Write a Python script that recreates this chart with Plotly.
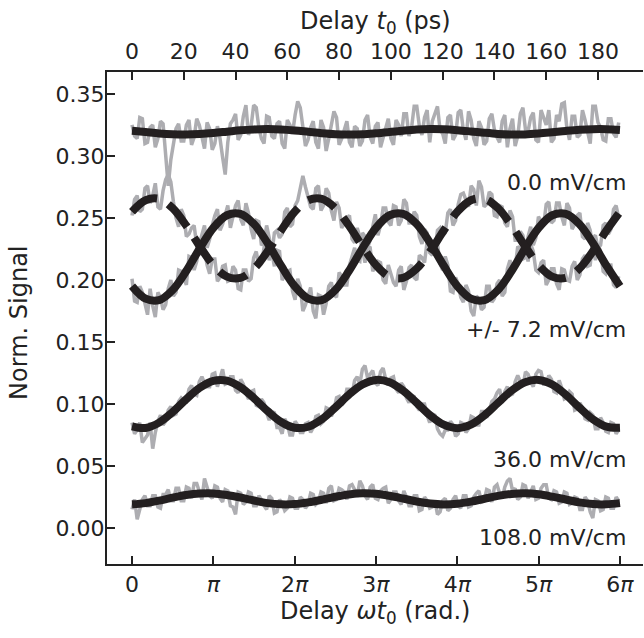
import math
import plotly.graph_objects as go

# ---------------- data ----------------
OMEGA = 0.1  # rad / ps  (6*pi rad  <->  ~188.5 ps)

# delay grid of the measured (grey) traces, in ps (1 ps steps)
T_PS = list(range(0, 189))

SIG_0MV = [0.325, 0.316, 0.314, 0.331, 0.330, 0.310, 0.311, 0.323, 0.325, 0.307,
           0.314, 0.328, 0.326, 0.301, 0.276, 0.297, 0.308, 0.322, 0.326, 0.312,
           0.312, 0.325, 0.329, 0.309, 0.315, 0.330, 0.325, 0.315, 0.306, 0.327,
           0.322, 0.305, 0.310, 0.324, 0.314, 0.299, 0.285, 0.311, 0.326, 0.329,
           0.334, 0.313, 0.317, 0.332, 0.341, 0.317, 0.324, 0.341, 0.339, 0.323,
           0.314, 0.310, 0.332, 0.331, 0.316, 0.314, 0.326, 0.328, 0.310, 0.306,
           0.329, 0.325, 0.318, 0.333, 0.344, 0.339, 0.322, 0.308, 0.313, 0.323,
           0.328, 0.311, 0.306, 0.329, 0.323, 0.304, 0.314, 0.326, 0.336, 0.331,
           0.309, 0.314, 0.320, 0.328, 0.311, 0.307, 0.324, 0.322, 0.308, 0.312,
           0.329, 0.333, 0.315, 0.310, 0.324, 0.327, 0.307, 0.315, 0.323, 0.330,
           0.314, 0.309, 0.329, 0.325, 0.316, 0.334, 0.334, 0.316, 0.323, 0.340,
           0.340, 0.324, 0.317, 0.331, 0.337, 0.311, 0.328, 0.335, 0.340, 0.321,
           0.318, 0.310, 0.331, 0.333, 0.313, 0.317, 0.335, 0.337, 0.321, 0.313,
           0.336, 0.329, 0.314, 0.308, 0.328, 0.323, 0.309, 0.312, 0.330, 0.334,
           0.321, 0.315, 0.311, 0.328, 0.333, 0.307, 0.322, 0.330, 0.308, 0.316,
           0.334, 0.339, 0.321, 0.320, 0.331, 0.335, 0.313, 0.311, 0.337, 0.331,
           0.325, 0.337, 0.311, 0.314, 0.333, 0.328, 0.342, 0.343, 0.322, 0.313,
           0.332, 0.332, 0.315, 0.317, 0.337, 0.329, 0.318, 0.310, 0.340, 0.340,
           0.327, 0.323, 0.313, 0.312, 0.330, 0.330, 0.318, 0.315, 0.327]

SIG_P72 = [0.201, 0.183, 0.182, 0.195, 0.190, 0.181, 0.172, 0.193, 0.179, 0.170,
           0.190, 0.186, 0.176, 0.180, 0.193, 0.200, 0.187, 0.190, 0.208, 0.207,
           0.201, 0.196, 0.219, 0.218, 0.208, 0.215, 0.229, 0.236, 0.244, 0.226,
           0.233, 0.244, 0.252, 0.257, 0.240, 0.245, 0.254, 0.260, 0.242, 0.251,
           0.260, 0.264, 0.249, 0.244, 0.262, 0.254, 0.241, 0.233, 0.248, 0.247,
           0.228, 0.230, 0.244, 0.234, 0.222, 0.211, 0.224, 0.223, 0.200, 0.204,
           0.207, 0.208, 0.191, 0.184, 0.201, 0.195, 0.175, 0.180, 0.187, 0.194,
           0.175, 0.169, 0.188, 0.187, 0.172, 0.181, 0.195, 0.198, 0.188, 0.186,
           0.206, 0.203, 0.196, 0.196, 0.212, 0.219, 0.226, 0.216, 0.215, 0.238,
           0.235, 0.226, 0.232, 0.243, 0.253, 0.236, 0.244, 0.258, 0.258, 0.247,
           0.244, 0.260, 0.259, 0.244, 0.248, 0.265, 0.262, 0.246, 0.246, 0.255,
           0.252, 0.235, 0.229, 0.241, 0.238, 0.222, 0.220, 0.230, 0.229, 0.213,
           0.208, 0.219, 0.212, 0.191, 0.190, 0.202, 0.197, 0.186, 0.182, 0.196,
           0.191, 0.175, 0.171, 0.187, 0.185, 0.176, 0.178, 0.195, 0.195, 0.182,
           0.185, 0.197, 0.200, 0.187, 0.190, 0.209, 0.216, 0.206, 0.210, 0.227,
           0.225, 0.217, 0.218, 0.235, 0.243, 0.228, 0.234, 0.251, 0.248, 0.244,
           0.261, 0.263, 0.246, 0.248, 0.262, 0.262, 0.251, 0.244, 0.262, 0.258,
           0.241, 0.245, 0.252, 0.254, 0.235, 0.233, 0.246, 0.240, 0.226, 0.216,
           0.229, 0.223, 0.207, 0.205, 0.212, 0.212, 0.196, 0.194, 0.203]

SIG_M72 = [0.252, 0.265, 0.268, 0.255, 0.257, 0.274, 0.276, 0.262, 0.268, 0.278,
           0.259, 0.257, 0.272, 0.281, 0.285, 0.279, 0.263, 0.250, 0.243, 0.257,
           0.252, 0.235, 0.237, 0.242, 0.244, 0.228, 0.220, 0.234, 0.224, 0.212,
           0.205, 0.217, 0.217, 0.199, 0.202, 0.211, 0.212, 0.199, 0.200, 0.211,
           0.208, 0.193, 0.192, 0.208, 0.208, 0.199, 0.201, 0.218, 0.223, 0.211,
           0.213, 0.226, 0.230, 0.216, 0.221, 0.238, 0.240, 0.234, 0.237, 0.255,
           0.258, 0.243, 0.245, 0.260, 0.264, 0.276, 0.284, 0.275, 0.267, 0.259,
           0.257, 0.274, 0.276, 0.256, 0.260, 0.274, 0.270, 0.256, 0.248, 0.263,
           0.258, 0.242, 0.246, 0.250, 0.252, 0.233, 0.230, 0.242, 0.235, 0.224,
           0.214, 0.227, 0.226, 0.207, 0.211, 0.215, 0.214, 0.200, 0.197, 0.212,
           0.205, 0.198, 0.195, 0.208, 0.211, 0.192, 0.199, 0.210, 0.212, 0.202,
           0.200, 0.220, 0.218, 0.214, 0.231, 0.233, 0.221, 0.223, 0.240, 0.242,
           0.236, 0.238, 0.254, 0.257, 0.244, 0.248, 0.261, 0.269, 0.270, 0.265,
           0.259, 0.276, 0.273, 0.260, 0.280, 0.275, 0.259, 0.261, 0.271, 0.269,
           0.252, 0.251, 0.260, 0.259, 0.246, 0.243, 0.256, 0.251, 0.232, 0.232,
           0.239, 0.236, 0.224, 0.215, 0.229, 0.223, 0.208, 0.206, 0.214, 0.216,
           0.196, 0.200, 0.209, 0.209, 0.197, 0.192, 0.209, 0.208, 0.200, 0.199,
           0.211, 0.215, 0.200, 0.204, 0.217, 0.220, 0.211, 0.212, 0.234, 0.236,
           0.226, 0.228, 0.244, 0.246, 0.237, 0.241, 0.257, 0.260, 0.250]

SIG_36 = [0.085, 0.076, 0.079, 0.085, 0.069, 0.072, 0.075, 0.085, 0.064, 0.077,
          0.086, 0.091, 0.083, 0.086, 0.095, 0.098, 0.091, 0.092, 0.102, 0.105,
          0.103, 0.102, 0.112, 0.115, 0.108, 0.107, 0.118, 0.122, 0.117, 0.114,
          0.114, 0.124, 0.125, 0.114, 0.122, 0.128, 0.116, 0.117, 0.122, 0.122,
          0.111, 0.109, 0.120, 0.116, 0.109, 0.104, 0.110, 0.111, 0.099, 0.098,
          0.104, 0.101, 0.093, 0.087, 0.094, 0.093, 0.081, 0.081, 0.076, 0.088,
          0.084, 0.075, 0.075, 0.086, 0.083, 0.077, 0.077, 0.084, 0.085, 0.077,
          0.081, 0.090, 0.091, 0.084, 0.086, 0.097, 0.096, 0.090, 0.095, 0.105,
          0.106, 0.099, 0.102, 0.112, 0.112, 0.108, 0.119, 0.122, 0.116, 0.128,
          0.131, 0.121, 0.124, 0.127, 0.117, 0.115, 0.126, 0.129, 0.120, 0.115,
          0.121, 0.122, 0.112, 0.109, 0.117, 0.114, 0.105, 0.101, 0.107, 0.106,
          0.098, 0.095, 0.100, 0.100, 0.091, 0.085, 0.092, 0.091, 0.080, 0.076,
          0.074, 0.079, 0.079, 0.086, 0.083, 0.074, 0.076, 0.085, 0.084, 0.077,
          0.080, 0.090, 0.089, 0.083, 0.083, 0.094, 0.094, 0.089, 0.095, 0.102,
          0.104, 0.109, 0.112, 0.101, 0.110, 0.114, 0.107, 0.108, 0.118, 0.123,
          0.118, 0.114, 0.126, 0.124, 0.118, 0.114, 0.124, 0.127, 0.126, 0.116,
          0.116, 0.123, 0.120, 0.110, 0.109, 0.119, 0.113, 0.104, 0.105, 0.110,
          0.108, 0.095, 0.096, 0.101, 0.097, 0.088, 0.087, 0.093, 0.091, 0.080,
          0.080, 0.089, 0.085, 0.078, 0.077, 0.085, 0.084, 0.076, 0.079]

SIG_108 = [0.015, 0.023, 0.007, 0.015, 0.023, 0.026, 0.018, 0.018, 0.026, 0.026,
           0.017, 0.016, 0.027, 0.027, 0.031, 0.022, 0.022, 0.032, 0.032, 0.022,
           0.022, 0.033, 0.032, 0.024, 0.036, 0.036, 0.030, 0.023, 0.040, 0.034,
           0.026, 0.024, 0.034, 0.033, 0.024, 0.021, 0.031, 0.030, 0.018, 0.017,
           0.011, 0.029, 0.028, 0.019, 0.021, 0.029, 0.028, 0.018, 0.018, 0.026,
           0.023, 0.018, 0.015, 0.026, 0.024, 0.012, 0.013, 0.023, 0.020, 0.014,
           0.016, 0.025, 0.024, 0.016, 0.016, 0.025, 0.023, 0.016, 0.019, 0.028,
           0.027, 0.019, 0.021, 0.029, 0.028, 0.020, 0.032, 0.034, 0.022, 0.023,
           0.032, 0.031, 0.029, 0.023, 0.034, 0.035, 0.031, 0.025, 0.038, 0.034,
           0.026, 0.023, 0.033, 0.035, 0.024, 0.023, 0.030, 0.032, 0.033, 0.020,
           0.023, 0.029, 0.029, 0.022, 0.019, 0.030, 0.025, 0.018, 0.018, 0.026,
           0.026, 0.014, 0.015, 0.025, 0.022, 0.016, 0.017, 0.022, 0.011, 0.013,
           0.022, 0.024, 0.014, 0.016, 0.023, 0.026, 0.018, 0.016, 0.026, 0.026,
           0.017, 0.018, 0.025, 0.028, 0.030, 0.021, 0.022, 0.031, 0.030, 0.021,
           0.033, 0.035, 0.028, 0.024, 0.033, 0.038, 0.040, 0.030, 0.032, 0.023,
           0.025, 0.035, 0.034, 0.024, 0.030, 0.034, 0.023, 0.024, 0.032, 0.035,
           0.035, 0.024, 0.023, 0.030, 0.029, 0.020, 0.021, 0.029, 0.028, 0.019,
           0.020, 0.025, 0.024, 0.015, 0.015, 0.025, 0.022, 0.013, 0.008, 0.023,
           0.022, 0.014, 0.015, 0.025, 0.024, 0.016, 0.016, 0.025, 0.022]

# fitted curves, sampled every pi/6 in omega*t0 (0 .. 6 pi)
FIT_STEPS = list(range(37))   # phase = step * pi/6

FIT_0MV = [0.3204, 0.3193, 0.3182, 0.3175, 0.3173, 0.3177, 0.3185, 0.3196, 0.3207, 0.3214,
           0.3217, 0.3214, 0.3206, 0.3195, 0.3184, 0.3176, 0.3173, 0.3175, 0.3183, 0.3193,
           0.3204, 0.3213, 0.3217, 0.3215, 0.3208, 0.3198, 0.3187, 0.3178, 0.3173, 0.3174,
           0.3181, 0.3191, 0.3202, 0.3211, 0.3216, 0.3216, 0.3210]

FIT_P72 = [0.1950, 0.1849, 0.1837, 0.1919, 0.2072, 0.2255, 0.2420, 0.2522, 0.2533, 0.2451,
           0.2298, 0.2115, 0.1950, 0.1849, 0.1837, 0.1919, 0.2072, 0.2255, 0.2420, 0.2522,
           0.2533, 0.2451, 0.2298, 0.2115, 0.1950, 0.1849, 0.1837, 0.1919, 0.2072, 0.2255,
           0.2420, 0.2522, 0.2533, 0.2451, 0.2298, 0.2115, 0.1950]

FIT_M72 = [0.2550, 0.2643, 0.2654, 0.2579, 0.2439, 0.2271, 0.2120, 0.2027, 0.2017, 0.2091,
           0.2231, 0.2399, 0.2550, 0.2643, 0.2654, 0.2579, 0.2439, 0.2271, 0.2120, 0.2027,
           0.2017, 0.2091, 0.2231, 0.2399, 0.2550, 0.2643, 0.2654, 0.2579, 0.2439, 0.2271,
           0.2120, 0.2027, 0.2017, 0.2091, 0.2231, 0.2399, 0.2550]

FIT_36 = [0.0820, 0.0807, 0.0850, 0.0935, 0.1039, 0.1131, 0.1187, 0.1189, 0.1137, 0.1047,
          0.0943, 0.0855, 0.0809, 0.0817, 0.0877, 0.0972, 0.1075, 0.1157, 0.1194, 0.1176,
          0.1108, 0.1010, 0.0908, 0.0833, 0.0805, 0.0833, 0.0908, 0.1009, 0.1108, 0.1176,
          0.1194, 0.1157, 0.1075, 0.0972, 0.0877, 0.0817, 0.0809]

FIT_108 = [0.0191, 0.0201, 0.0221, 0.0245, 0.0266, 0.0278, 0.0279, 0.0266, 0.0246, 0.0222,
           0.0201, 0.0191, 0.0193, 0.0207, 0.0228, 0.0252, 0.0271, 0.0280, 0.0276, 0.0260,
           0.0238, 0.0214, 0.0197, 0.0190, 0.0196, 0.0213, 0.0236, 0.0259, 0.0275, 0.0280,
           0.0272, 0.0253, 0.0230, 0.0207, 0.0193, 0.0191, 0.0201]

LABELS = ["0.0 mV/cm", "+/- 7.2 mV/cm", "36.0 mV/cm", "108.0 mV/cm"]
LABEL_Y = [0.279, 0.1597, 0.0556, -0.008]

X_TICK_MULT = [0, 1, 2, 3, 4, 5, 6]
X_TICK_TEXT = ["0", "<i>π</i>", "2<i>π</i>", "3<i>π</i>", "4<i>π</i>", "5<i>π</i>", "6<i>π</i>"]
TOP_TICKS = [0, 20, 40, 60, 80, 100, 120, 140, 160, 180]
Y_TICKS = [0.00, 0.05, 0.10, 0.15, 0.20, 0.25, 0.30, 0.35]

# ---------------- figure ----------------
GREY = "#adadb1"
DARK = "#231f20"
AXC = "#222222"

x_meas = [t * OMEGA for t in T_PS]
x_fit = [k * math.pi / 6 for k in FIT_STEPS]

fig = go.Figure()
for sig in [SIG_0MV, SIG_P72, SIG_M72, SIG_36, SIG_108]:
    fig.add_trace(go.Scatter(x=x_meas, y=sig, mode="lines",
                             line=dict(color=GREY, width=3.5), hoverinfo="skip"))

for fit, dash in [(FIT_0MV, "solid"), (FIT_P72, "solid"), (FIT_M72, "29.6px,12.8px"),
                  (FIT_36, "solid"), (FIT_108, "solid")]:
    fig.add_trace(go.Scatter(x=x_fit, y=fit, mode="lines",
                             line=dict(color=DARK, width=8, dash=dash, shape="spline",
                                       smoothing=1.0)))

# invisible trace so the top (ps) axis is drawn
fig.add_trace(go.Scatter(x=[T_PS[0]], y=[1.0], xaxis="x2", mode="markers",
                         marker=dict(opacity=0), hoverinfo="skip"))

XR = [-0.3074 * math.pi, 6.283 * math.pi]
axis_style = dict(ticks="inside", ticklen=8, tickwidth=1.8, tickcolor=AXC,
                  showline=True, linewidth=2, linecolor=AXC, showgrid=False,
                  zeroline=False, mirror=False, tickfont=dict(size=22, color=AXC))

fig.update_layout(
    width=644, height=638,
    margin=dict(l=107, r=1, t=72, b=74, autoexpand=False),
    plot_bgcolor="white", paper_bgcolor="white",
    font=dict(family="DejaVu Sans", size=22, color=AXC),
    showlegend=False,
    xaxis=dict(range=XR, tickvals=[m * math.pi for m in X_TICK_MULT],
               ticktext=X_TICK_TEXT, **axis_style),
    xaxis2=dict(range=[XR[0] / OMEGA, XR[1] / OMEGA], overlaying="x", side="top",
                anchor="y", tickvals=TOP_TICKS, ticklabelstandoff=2, **axis_style),
    yaxis=dict(range=[-0.029, 0.3677], tickvals=Y_TICKS, tickformat=".2f",
               ticklabelstandoff=-4, **axis_style),
)

ann = [
    dict(text="Delay <i>t</i><sub>0</sub> (ps)", xref="paper", yref="paper",
         x=0.5, y=1.1016, xanchor="center", yanchor="middle", showarrow=False,
         font=dict(size=24)),
    dict(text="Delay <i>ωt</i><sub>0</sub> (rad.)", xref="paper", yref="paper",
         x=0.5, y=-0.0976, xanchor="center", yanchor="middle", showarrow=False,
         font=dict(size=24)),
    dict(text="Norm. Signal", xref="paper", yref="paper", x=-0.1642, y=0.49,
         xanchor="center", yanchor="middle", textangle=-90, showarrow=False,
         font=dict(size=24)),
]
for lab, ly in zip(LABELS, LABEL_Y):
    ann.append(dict(text=lab, xref="paper", yref="y", x=0.972, y=ly,
                    xanchor="right", yanchor="middle", showarrow=False,
                    font=dict(size=22)))
fig.update_layout(annotations=ann)

fig.write_html("out.html",
               config={"displayModeBar": False},
               post_script="document.body.style.margin='0';"
                           "document.body.style.overflow='hidden';")
